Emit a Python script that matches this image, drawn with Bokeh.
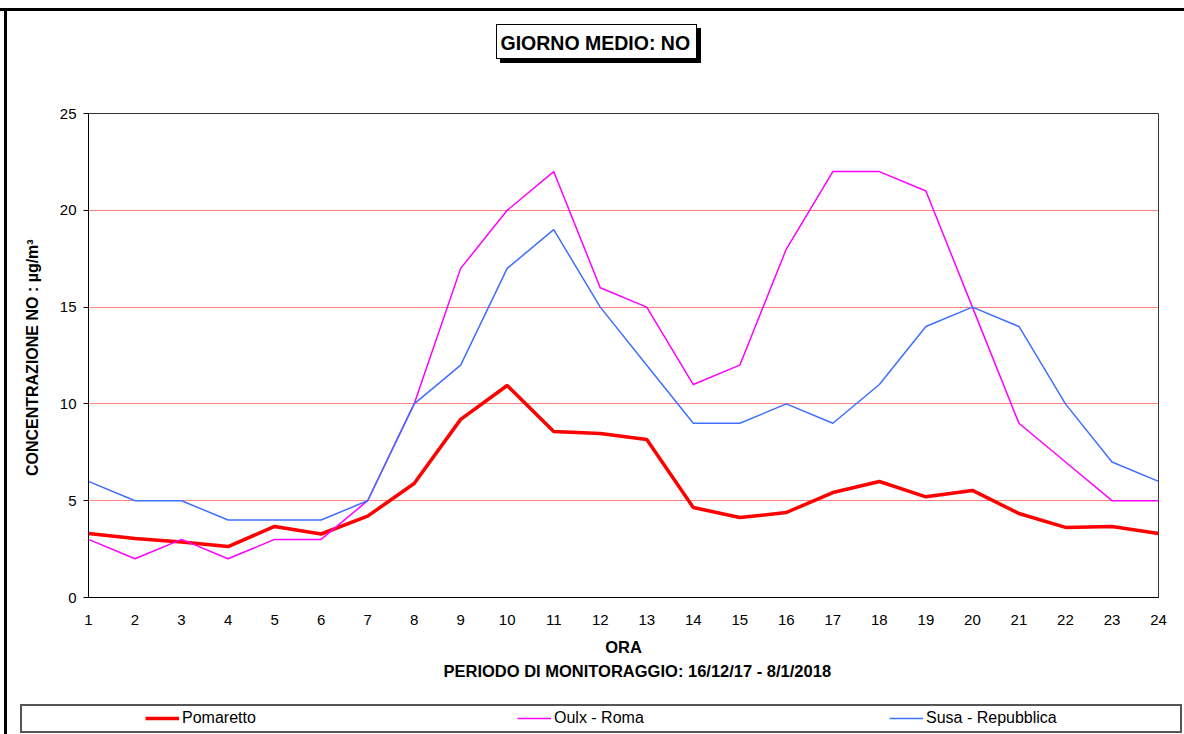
from bokeh.plotting import figure
from bokeh.layouts import column
from bokeh.models import (Range1d, FixedTicker, Title, Legend, LegendItem, InlineStyleSheet)
from bokeh.embed import file_html
from bokeh.resources import INLINE

# ---------------- data ----------------
hours = list(range(1, 25))
pomaretto = [3.31, 3.05, 2.87, 2.63, 3.67, 3.28, 4.2, 5.89, 9.2, 10.95, 8.57, 8.47,
             8.16, 4.65, 4.13, 4.39, 5.42, 5.99, 5.2, 5.53, 4.34, 3.62, 3.67, 3.31]
oulx_roma = [3, 2, 3, 2, 3, 3, 5, 10, 17, 20, 22, 16, 15, 11, 12, 18, 22, 22, 21, 15, 9, 7, 5, 5]
susa_repubblica = [6, 5, 5, 4, 4, 4, 5, 10, 12, 17, 19, 15, 12, 9, 9, 10, 9, 11, 14, 15, 14, 10, 7, 6]
series_names = ["Pomaretto", "Oulx - Roma", "Susa - Repubblica"]
y_ticks = [0, 5, 10, 15, 20, 25]

W = 1184
H_MAIN, H_LEG = 704, 30
FONT = "Liberation Sans"
COLORS = ["#ff0000", "#ff00ff", "#3f6fff"]
WIDTHS = [3.5, 1.5, 1.5]
SERIES = [pomaretto, oulx_roma, susa_repubblica]

# decorative frame / title box drawn with CSS around the main canvas
css_main = """
:host { position: relative; }
:host::before {
  content: ""; position: absolute; left: 496px; top: 24px; width: 201px; height: 35px;
  box-sizing: border-box; border: 1px solid #000; background: #fff;
  box-shadow: 4px 4px 0 0 #000; pointer-events: none;
}
:host::after {
  content: ""; position: absolute; left: 0; top: 0; width: 100%; height: 100%;
  pointer-events: none;
  background-image: linear-gradient(#000,#000), linear-gradient(#000,#000);
  background-size: 100% 3px, 3px 100%;
  background-position: 0 8px, 4px 8px;
  background-repeat: no-repeat;
}
"""
css_leg = """
:host { position: relative; }
:host::after {
  content: ""; position: absolute; left: 0; top: 0; width: 100%; height: 100%;
  pointer-events: none;
  background-image: linear-gradient(#000,#000),
                    linear-gradient(#555,#555), linear-gradient(#555,#555),
                    linear-gradient(#555,#555), linear-gradient(#555,#555);
  background-size: 3px 100%, 1162px 2px, 1162px 2px, 2px 29px, 2px 29px;
  background-position: 4px 0, 20px 0, 20px 27px, 20px 0, 1180px 0;
  background-repeat: no-repeat;
}
"""

p = figure(width=W, height=H_MAIN, frame_width=1070, frame_height=484,
           output_backend="svg", toolbar_location=None,
           x_range=Range1d(1, 24), y_range=Range1d(0, 25),
           min_border_left=88, min_border_right=26, min_border_top=113, min_border_bottom=107)
p.stylesheets = [InlineStyleSheet(css=css_main)]
p.background_fill_color = "white"
p.border_fill_color = None
p.outline_line_color = "#333333"
p.outline_line_width = 1

p.title = Title(text="GIORNO MEDIO: NO", align="left", offset=412, standoff=4,
                vertical_align="top", text_font=FONT, text_font_style="bold",
                text_font_size="19.5px", text_color="black")
# spacing between title and plot area
p.add_layout(Title(text=" ", standoff=43, text_font_size="10px", text_font=FONT), "above")

# grid
p.xgrid.grid_line_color = None
p.ygrid.grid_line_color = "#ff8080"
p.ygrid.grid_line_width = 1
p.ygrid.ticker = FixedTicker(ticks=y_ticks)

# axes
p.xaxis.ticker = FixedTicker(ticks=hours)
p.yaxis.ticker = FixedTicker(ticks=y_ticks)
for ax in (p.xaxis[0], p.yaxis[0]):
    ax.axis_line_color = "black"
    ax.axis_line_width = 1
    ax.major_label_text_font = FONT
    ax.major_label_text_font_size = "15px"
    ax.major_label_text_color = "black"
    ax.minor_tick_line_color = None
    ax.axis_label_text_font = FONT
    ax.axis_label_text_font_style = "bold"
    ax.axis_label_text_color = "black"
p.xaxis.major_tick_line_color = None
p.xaxis.major_tick_out = 0
p.xaxis.major_tick_in = 0
p.xaxis.major_label_standoff = 17
p.xaxis.axis_label = "ORA"
p.xaxis.axis_label_text_font_size = "16.5px"
p.xaxis.axis_label_standoff = 10
p.yaxis.major_tick_line_color = "black"
p.yaxis.major_tick_out = 5
p.yaxis.major_tick_in = 0
p.yaxis.major_label_standoff = 7
p.yaxis.axis_label = "CONCENTRAZIONE NO :  µg/m³"
p.yaxis.axis_label_text_font_size = "16px"
p.yaxis.axis_label_standoff = 16

# series
for vals, c, w in zip(SERIES, COLORS, WIDTHS):
    p.line(hours, vals, line_color=c, line_width=w)

# subtitle below the axis
p.add_layout(Title(text="PERIODO DI MONITORAGGIO: 16/12/17 - 8/1/2018", align="left",
                   offset=355, standoff=6, vertical_align="top", text_font=FONT,
                   text_font_style="bold", text_font_size="16.5px", text_color="black"),
             "below")

# ---------------- legend strip ----------------
# the same series are attached to a strip whose view range shows none of them,
# so that only the legend entries are visible there
pl = figure(width=W, height=H_LEG, output_backend="svg", toolbar_location=None,
            x_range=Range1d(-50, -40), y_range=Range1d(-50, -40),
            x_axis_location=None, y_axis_location=None,
            min_border_left=0, min_border_right=0, min_border_top=0, min_border_bottom=0)
pl.stylesheets = [InlineStyleSheet(css=css_leg)]
pl.grid.visible = False
pl.outline_line_color = None
pl.background_fill_color = "white"
pl.border_fill_color = "white"

items = []
for name, vals, c, w in zip(series_names, SERIES, COLORS, WIDTHS):
    r = pl.line(hours, vals, line_color=c, line_width=w)
    items.append(LegendItem(label=name, renderers=[r]))

legend = Legend(items=items, orientation="horizontal", location=(57, 6),
                glyph_width=34, glyph_height=20, label_standoff=3, label_width=175,
                spacing=160, padding=0, margin=0,
                border_line_color=None, background_fill_alpha=0,
                label_text_font=FONT, label_text_font_size="16px", label_text_color="black")
pl.add_layout(legend, "center")

layout = column(p, pl, spacing=0)
open("out.html", "w").write(file_html(layout, INLINE))
